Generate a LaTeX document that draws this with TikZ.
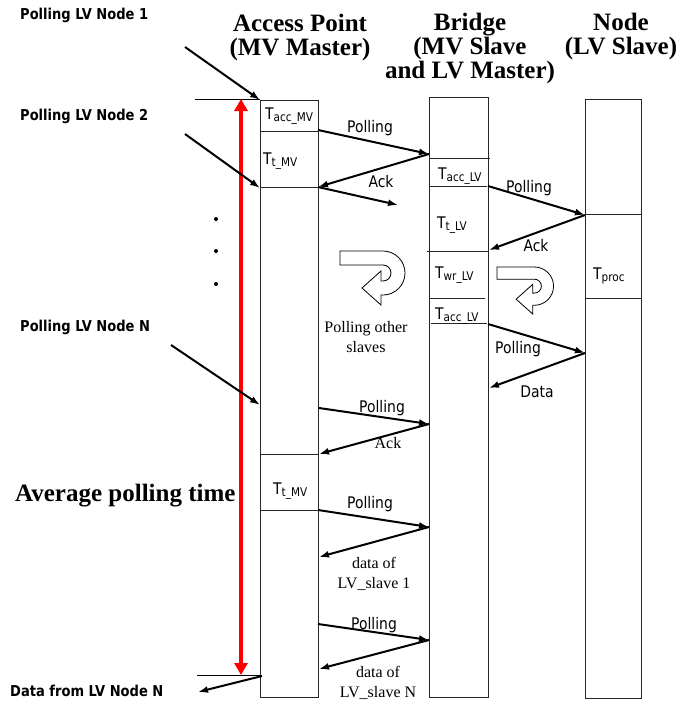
\documentclass[tikz,border=0pt]{standalone}
\usepackage{fontspec}
\setmainfont{Liberation Serif}
\newfontfamily\labfont{DejaVu Sans}[FakeStretch=0.87]
\usetikzlibrary{arrows.meta}
\newcommand{\tsub}[1]{T\raisebox{-2.5pt}{\fontsize{12}{12}\selectfont #1}}
\tikzset{
    bar/.style={draw=black!85, line width=1pt},
    msg/.style={line width=2pt, -{Latex[length=10pt,width=7pt]}},
    head/.style={font=\bfseries\fontsize{25}{24}\selectfont, inner sep=0pt, align=center, anchor=north},
    sidelab/.style={font=\labfont\bfseries\fontsize{15}{18}\selectfont, inner sep=0pt, anchor=base west},
    msglab/.style={font=\labfont\fontsize{16}{18}\selectfont, inner sep=0pt, anchor=base},
    tlab/.style={font=\labfont\fontsize{16}{18}\selectfont, inner sep=0pt, anchor=base west},
    serlab/.style={font=\fontsize{16}{20}\selectfont, inner sep=0pt, align=center, anchor=north},
    uturn/.style={draw, line width=0.8pt, fill=white}
}
\begin{document}
\begin{tikzpicture}[x=1pt,y=-1pt]
                \useasboundingbox (0,0) rectangle (682,701);
                \node[head] (hap) at (300,13.5) {Access Point\\(MV Master)};
                \node[head] (hbr) at (470,13) {Bridge\\(MV Slave\\and LV Master)};
                \node[head] (hnd) at (621,13) {Node\\(LV Slave)};
                \draw[bar] (260,100) rectangle (318,697);
                \draw[bar] (429,97) rectangle (488,697);
                \draw[bar] (585,99) rectangle (641,698);
                \draw[bar] (260,131) -- (318,131);
                \draw[bar] (260,187) -- (318,187);
                \draw[bar] (260,454) -- (318,454);
                \draw[bar] (260,510) -- (318,510);
                \draw[bar] (430,158) -- (490,158);
                \draw[bar] (430,186) -- (487,186);
                \draw[bar] (427,251) -- (489,251);
                \draw[bar] (430,298) -- (485,298);
                \draw[bar] (431,323) -- (487,323);
                \draw[bar] (585,214) -- (641,214);
                \draw[bar] (585,298) -- (641,298);
                \node[tlab] (tacc1) at (265,119) {\tsub{acc\_MV}};
                \node[tlab] (tt1) at (263,164) {\tsub{t\_MV}};
                \node[tlab] (tt2) at (273,494) {\tsub{t\_MV}};
                \node[tlab] (tacc2) at (438,179) {\tsub{acc\_LV}};
                \node[tlab] (tt3) at (437,228) {\tsub{t\_LV}};
                \node[tlab] (twr) at (435,278) {\tsub{wr\_LV}};
                \node[tlab] (tacc3) at (435,319) {\tsub{acc\_LV}};
                \node[tlab] (tproc) at (593,279) {\tsub{proc}};
                \coordinate (redtop) at (241,99);
                \coordinate (redbot) at (241,675);
                \draw (195,99) -- (260,99);
                \draw (197,675) -- (262,675);
                \draw[red, line width=3.5pt, {Triangle[length=12pt,width=13pt]}-{Triangle[length=12pt,width=13pt]}] (redtop) -- (redbot);
                \node[font=\bfseries\fontsize{25}{25}\selectfont, inner sep=0pt, anchor=base west] (avg) at (15,501) {Average polling time};
                \node[sidelab] (p1) at (20,19.5) {Polling LV Node 1};
                \node[sidelab] (p2) at (20,120) {Polling LV Node 2};
                \node[sidelab] (pn) at (20,331.5) {Polling LV Node N};
                \node[sidelab] (dn) at (10,696) {Data from LV Node N};
                \fill (216,219) circle (2);
                \fill (216,251) circle (2);
                \fill (216,284) circle (2);
                \coordinate (in1) at (185,47);
                \coordinate (in2) at (185,134);
                \coordinate (inN) at (171,345);
                \coordinate (outN) at (198,692);
                \coordinate (ap1) at (260,100);
                \coordinate (ap2) at (260,188);
                \coordinate (apN) at (260,405);
                \coordinate (apOut) at (262,676);
                \coordinate (ap3) at (318,130);
                \coordinate (ap4) at (318,187);
                \coordinate (oth) at (398,205);
                \coordinate (ap5) at (319,408);
                \coordinate (ap6) at (319,454);
                \coordinate (ap7) at (318,510);
                \coordinate (ap8) at (319,557);
                \coordinate (ap9) at (318,624);
                \coordinate (ap10) at (319,669);
                \coordinate (br1) at (429,154);
                \coordinate (br2) at (488,186);
                \coordinate (br3) at (489,250);
                \coordinate (br4) at (488,324);
                \coordinate (br5) at (489,388);
                \coordinate (br6) at (429,424);
                \coordinate (br7) at (429,527);
                \coordinate (br8) at (429,640);
                \coordinate (nd1) at (585,215);
                \coordinate (nd2) at (585,353);
                \draw[msg] (in1) -- (ap1);
                \draw[msg] (in2) -- (ap2);
                \draw[msg] (inN) -- (apN);
                \draw[msg] (apOut) -- (outN);
                \draw[msg] (ap3) -- (br1);
                \draw[msg] (br1) -- (ap4);
                \draw[msg] (ap4) -- (oth);
                \draw[msg] (br2) -- (nd1);
                \draw[msg] (nd1) -- (br3);
                \draw[msg] (br4) -- (nd2);
                \draw[msg] (nd2) -- (br5);
                \draw[msg] (ap5) -- (br6);
                \draw[msg] (br6) -- (ap6);
                \draw[msg] (ap7) -- (br7);
                \draw[msg] (br7) -- (ap8);
                \draw[msg] (ap9) -- (br8);
                \draw[msg] (br8) -- (ap10);
                \node[msglab] (l1) at (370,132) {Polling};
                \node[msglab] (l2) at (381,187) {Ack};
                \node[msglab] (l3) at (529,192) {Polling};
                \node[msglab] (l4) at (536,251) {Ack};
                \node[msglab] (l5) at (518,353) {Polling};
                \node[msglab] (l6) at (537,397) {Data};
                \node[msglab] (l7) at (382,412) {Polling};
                \node[msglab] (l8) at (370,508) {Polling};
                \node[msglab] (l9) at (374,629) {Polling};
                \node[serlab] (oth1) at (366,321) {Polling other\\slaves};
                \node[serlab] (ack3) at (388,437) {Ack};
                \node[serlab] (dat1) at (374,557) {data of\\LV\_slave 1};
                \node[serlab] (dat2) at (378,666) {data of\\LV\_slave N};
                \draw[uturn, shift={(340,251)}] (0,0) -- (43,0) arc[start angle=270, end angle=450, radius=22] -- (41,44) -- (41,54) -- (22,37) -- (41,20) -- (41,30) -- (43,30) arc[start angle=90, end angle=-90, radius=8] -- (0,14) -- cycle;
                \draw[uturn, shift={(497,267)}, scale=0.87] (0,0) -- (43,0) arc[start angle=270, end angle=450, radius=22] -- (41,44) -- (41,54) -- (22,37) -- (41,20) -- (41,30) -- (43,30) arc[start angle=90, end angle=-90, radius=8] -- (0,14) -- cycle;
            \end{tikzpicture}
\end{document}
